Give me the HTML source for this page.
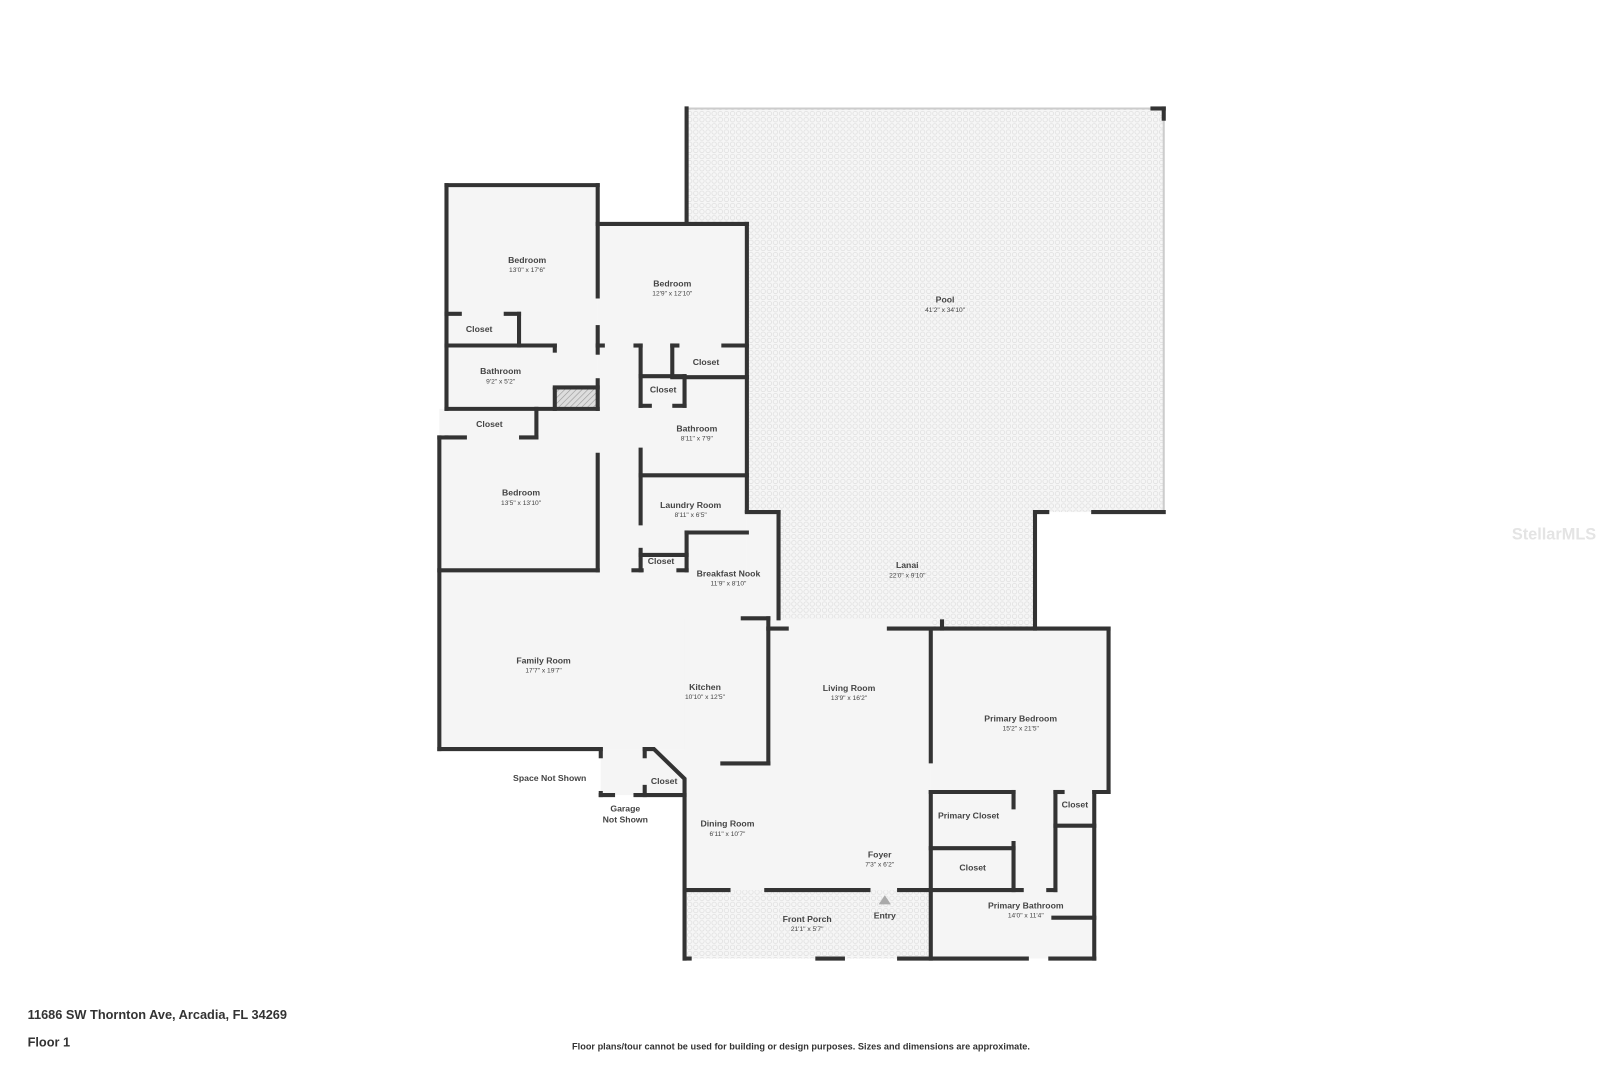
<!DOCTYPE html>
<html><head><meta charset="utf-8"><style>
html,body{margin:0;padding:0;background:#fff;}
svg{display:block}
text{font-family:"Liberation Sans",sans-serif;fill:#444;text-anchor:middle}
.n{font-size:8.5px;font-weight:bold}
.d{font-size:6.5px}
</style></head><body>
<svg width="1600" height="1066" viewBox="0 0 1566 1043" xmlns="http://www.w3.org/2000/svg">
<defs>
<pattern id="p" width="6" height="6" patternUnits="userSpaceOnUse">
<rect width="6" height="6" fill="#f6f6f6"/><circle cx="3" cy="3" r="2.2" fill="none" stroke="#dedede" stroke-width="0.7"/>
</pattern>
<pattern id="h" width="4" height="4" patternUnits="userSpaceOnUse" patternTransform="rotate(45)">
<rect width="4" height="4" fill="#ddd"/><line x1="0" y1="0" x2="0" y2="4" stroke="#999" stroke-width="1.2"/>
</pattern>
</defs>
<rect x="672" y="106" width="467" height="395" fill="url(#p)"/>
<rect x="762" y="501" width="251" height="114" fill="url(#p)"/>
<rect x="670" y="871" width="241" height="67" fill="url(#p)"/>
<g fill="#f5f5f5">
<rect x="437" y="181" width="148" height="219"/>
<rect x="585" y="219" width="146" height="282"/>
<rect x="430" y="400" width="197" height="333"/>
<rect x="585" y="338" width="146" height="267"/>
<rect x="731" y="501" width="31" height="104"/>
<rect x="430" y="558" width="322" height="175"/>
<rect x="588" y="733" width="82" height="45"/>
<rect x="670" y="605" width="241" height="266"/>
<rect x="752" y="615" width="159" height="256"/>
<rect x="911" y="615" width="174" height="160"/>
<rect x="911" y="775" width="160" height="163"/>
</g>
<rect x="543" y="379" width="42" height="21" fill="url(#h)"/>
<g stroke="#ccc" stroke-width="2" fill="none">
<line x1="672" y1="106" x2="1139" y2="106"/>
<line x1="1139" y1="106" x2="1139" y2="501"/>
</g>
<g stroke="#333" stroke-width="4" fill="none" stroke-linecap="square">
<line x1="672" y1="106" x2="672" y2="219"/>
<line x1="1128" y1="106" x2="1139" y2="106"/>
<line x1="1139" y1="106" x2="1139" y2="116"/>
<line x1="1013" y1="501" x2="1025" y2="501"/>
<line x1="1070" y1="501" x2="1139" y2="501"/>
<line x1="1013" y1="501" x2="1013" y2="615"/>
<line x1="437" y1="181" x2="585" y2="181"/>
<line x1="437" y1="181" x2="437" y2="400"/>
<line x1="585" y1="181" x2="585" y2="290"/>
<line x1="585" y1="320" x2="585" y2="345"/>
<line x1="585" y1="372" x2="585" y2="400"/>
<line x1="437" y1="307" x2="450" y2="307"/>
<line x1="495" y1="307" x2="508" y2="307"/>
<line x1="508" y1="307" x2="508" y2="338"/>
<line x1="437" y1="338" x2="543" y2="338"/>
<line x1="543" y1="338" x2="543" y2="343"/>
<line x1="543" y1="381" x2="543" y2="400"/>
<line x1="543" y1="379" x2="585" y2="379"/>
<line x1="437" y1="400" x2="585" y2="400"/>
<line x1="525" y1="400" x2="525" y2="428"/>
<line x1="437" y1="428" x2="455" y2="428"/>
<line x1="510" y1="428" x2="525" y2="428"/>
<line x1="430" y1="428" x2="437" y2="428"/>
<line x1="430" y1="428" x2="430" y2="733"/>
<line x1="430" y1="558" x2="585" y2="558"/>
<line x1="585" y1="445" x2="585" y2="558"/>
<line x1="585" y1="219" x2="731" y2="219"/>
<line x1="731" y1="219" x2="731" y2="500"/>
<line x1="585" y1="338" x2="590" y2="338"/>
<line x1="622" y1="338" x2="627" y2="338"/>
<line x1="627" y1="338" x2="627" y2="365"/>
<line x1="658" y1="338" x2="663" y2="338"/>
<line x1="708" y1="338" x2="731" y2="338"/>
<line x1="658" y1="338" x2="658" y2="368"/>
<line x1="658" y1="369" x2="731" y2="369"/>
<line x1="627" y1="368" x2="670" y2="368"/>
<line x1="670" y1="368" x2="670" y2="397"/>
<line x1="627" y1="368" x2="627" y2="397"/>
<line x1="627" y1="397" x2="636" y2="397"/>
<line x1="660" y1="397" x2="670" y2="397"/>
<line x1="627" y1="440" x2="627" y2="512"/>
<line x1="627" y1="465" x2="731" y2="465"/>
<line x1="672" y1="521" x2="731" y2="521"/>
<line x1="672" y1="521" x2="672" y2="558"/>
<line x1="627" y1="538" x2="627" y2="558"/>
<line x1="627" y1="543" x2="672" y2="543"/>
<line x1="620" y1="558" x2="628" y2="558"/>
<line x1="664" y1="558" x2="672" y2="558"/>
<line x1="731" y1="501" x2="762" y2="501"/>
<line x1="762" y1="501" x2="762" y2="605"/>
<line x1="727" y1="605" x2="752" y2="605"/>
<line x1="752" y1="605" x2="752" y2="747"/>
<line x1="707" y1="747" x2="752" y2="747"/>
<line x1="430" y1="733" x2="588" y2="733"/>
<line x1="588" y1="733" x2="588" y2="740"/>
<line x1="588" y1="776" x2="588" y2="778"/>
<line x1="588" y1="778" x2="600" y2="778"/>
<line x1="622" y1="778" x2="670" y2="778"/>
<line x1="631" y1="733" x2="631" y2="740"/>
<line x1="631" y1="770" x2="631" y2="778"/>
<polyline points="631,733 640,733 670,762 670,938"/>
<line x1="752" y1="615" x2="770" y2="615"/>
<line x1="870" y1="615" x2="1085" y2="615"/>
<line x1="922" y1="608" x2="922" y2="615"/>
<line x1="911" y1="615" x2="911" y2="745"/>
<line x1="911" y1="775" x2="911" y2="938"/>
<line x1="1085" y1="615" x2="1085" y2="775"/>
<line x1="1071" y1="775" x2="1085" y2="775"/>
<line x1="1071" y1="775" x2="1071" y2="938"/>
<line x1="911" y1="775" x2="992" y2="775"/>
<line x1="992" y1="775" x2="992" y2="790"/>
<line x1="992" y1="825" x2="992" y2="871"/>
<line x1="911" y1="830" x2="992" y2="830"/>
<line x1="911" y1="871" x2="1000" y2="871"/>
<line x1="1026" y1="871" x2="1033" y2="871"/>
<line x1="1033" y1="775" x2="1033" y2="871"/>
<line x1="1033" y1="808" x2="1071" y2="808"/>
<line x1="1033" y1="775" x2="1040" y2="775"/>
<line x1="1031" y1="898" x2="1071" y2="898"/>
<line x1="670" y1="871" x2="713" y2="871"/>
<line x1="750" y1="871" x2="850" y2="871"/>
<line x1="880" y1="871" x2="911" y2="871"/>
<line x1="670" y1="938" x2="675" y2="938"/>
<line x1="800" y1="938" x2="825" y2="938"/>
<line x1="880" y1="938" x2="1005" y2="938"/>
<line x1="1028" y1="938" x2="1071" y2="938"/>
</g>
<polygon points="866,876 860,885 872,885" fill="#aaa"/>
<text class="n" x="516" y="257">Bedroom</text><text class="d" x="516" y="266">13'0" x 17'6"</text>
<text class="n" x="658" y="280">Bedroom</text><text class="d" x="658" y="289">12'9" x 12'10"</text>
<text class="n" x="469" y="325">Closet</text>
<text class="n" x="490" y="366">Bathroom</text><text class="d" x="490" y="375">9'2" x 5'2"</text>
<text class="n" x="691" y="357">Closet</text>
<text class="n" x="649" y="384">Closet</text>
<text class="n" x="479" y="418">Closet</text>
<text class="n" x="682" y="422">Bathroom</text><text class="d" x="682" y="431">8'11" x 7'9"</text>
<text class="n" x="510" y="485">Bedroom</text><text class="d" x="510" y="494">13'5" x 13'10"</text>
<text class="n" x="676" y="497">Laundry Room</text><text class="d" x="676" y="506">8'11" x 6'5"</text>
<text class="n" x="647" y="552">Closet</text>
<text class="n" x="713" y="564">Breakfast Nook</text><text class="d" x="713" y="573">11'9" x 8'10"</text>
<text class="n" x="925" y="296">Pool</text><text class="d" x="925" y="305">41'2" x 34'10"</text>
<text class="n" x="888" y="556">Lanai</text><text class="d" x="888" y="565">22'0" x 9'10"</text>
<text class="n" x="532" y="649">Family Room</text><text class="d" x="532" y="658">17'7" x 19'7"</text>
<text class="n" x="690" y="675">Kitchen</text><text class="d" x="690" y="684">10'10" x 12'5"</text>
<text class="n" x="831" y="676">Living Room</text><text class="d" x="831" y="685">13'9" x 16'2"</text>
<text class="n" x="999" y="706">Primary Bedroom</text><text class="d" x="999" y="715">15'2" x 21'5"</text>
<text class="n" x="538" y="764">Space Not Shown</text>
<text class="n" x="650" y="767">Closet</text>
<text class="n" x="612" y="794">Garage</text><text class="n" x="612" y="805">Not Shown</text>
<text class="n" x="1052" y="790">Closet</text>
<text class="n" x="948" y="801">Primary Closet</text>
<text class="n" x="712" y="809">Dining Room</text><text class="d" x="712" y="818">6'11" x 10'7"</text>
<text class="n" x="861" y="839">Foyer</text><text class="d" x="861" y="848">7'3" x 6'2"</text>
<text class="n" x="952" y="852">Closet</text>
<text class="n" x="1004" y="889">Primary Bathroom</text><text class="d" x="1004" y="898">14'0" x 11'4"</text>
<text class="n" x="790" y="902">Front Porch</text><text class="d" x="790" y="911">21'1" x 5'7"</text>
<text class="n" x="866" y="899">Entry</text>
<text x="1521" y="528" style="font-size:16px;fill:#e4e4e4;font-weight:bold">StellarMLS</text>
<text x="27" y="997" style="font-size:12.5px;font-weight:bold;text-anchor:start;fill:#333">11686 SW Thornton Ave, Arcadia, FL 34269</text>
<text x="27" y="1024" style="font-size:12.5px;font-weight:bold;text-anchor:start;fill:#333">Floor 1</text>
<text x="784" y="1027" style="font-size:9px;font-weight:bold;fill:#333">Floor plans/tour cannot be used for building or design purposes. Sizes and dimensions are approximate.</text>
</svg>
</body></html>
